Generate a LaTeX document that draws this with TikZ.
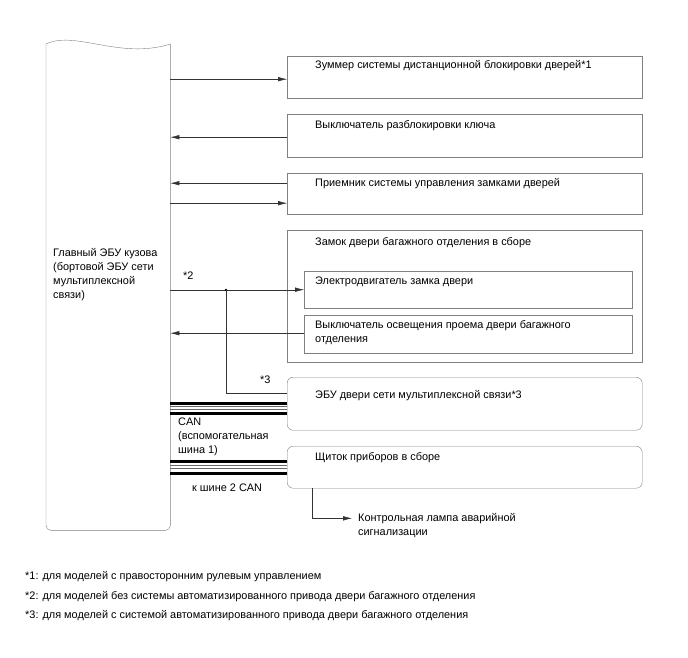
\documentclass[tikz,border=0pt]{standalone}
\usepackage{fontspec}
\setmainfont{Liberation Sans}
\usetikzlibrary{arrows.meta,positioning}

\newcommand{\dgfont}{\fontsize{10.9}{14}\selectfont}

\tikzset{
  blk/.style={draw=black!50, minimum width=355pt, minimum height=42pt, anchor=north west, inner sep=0pt},
  rblk/.style={blk, rounded corners=6pt},
  lbl/.style={anchor=north west, inner sep=0pt, align=left, font=\dgfont},
  txt/.style={inner sep=0pt, align=left, font=\dgfont},
  arr/.style={draw=black!80, -{Latex[length=9pt,width=4.5pt]}},
  wire/.style={draw=black!80},
  canthick/.style={line width=2.8pt, black},
  canthin/.style={line width=0.6pt, black!60},
}

\begin{document}
\begin{tikzpicture}[x=1pt,y=-1pt]
    \useasboundingbox (0,0) rectangle (688,658);

    % main body ECU
    \node[minimum width=124pt, minimum height=486pt, anchor=north west, inner sep=0pt,
      label={[lbl, xshift=7pt, yshift=-204pt]north west:Главный ЭБУ кузова\\(бортовой ЭБУ сети\\мультиплексной\\связи)}] (ecu) at (46,44) {};
    \draw[draw=black!50, rounded corners=5pt] (ecu.north west) -- (ecu.south west) -- (ecu.south east) -- (ecu.north east);
    \draw[draw=black!50] (ecu.north east) .. controls (120,60) and (75,30) .. (ecu.north west);

    % boxes
    \node[blk, label={[lbl, xshift=28pt, yshift=-4pt]north west:Зуммер системы дистанционной блокировки дверей*1}] (buzz) at (287,56) {};
    \node[blk, minimum height=43pt, label={[lbl, xshift=28pt, yshift=-6pt]north west:Выключатель разблокировки ключа}] (keysw) at (287,114) {};
    \node[blk, minimum height=41pt, label={[lbl, xshift=28pt, yshift=-5pt]north west:Приемник системы управления замками дверей}] (recv) at (287,173) {};
    \node[blk, minimum height=132pt, label={[lbl, xshift=28pt, yshift=-7pt]north west:Замок двери багажного отделения в сборе}] (tlock) at (287,230) {};
    \node[blk, minimum width=328pt, minimum height=37pt, label={[lbl, xshift=11pt, yshift=-6pt]north west:Электродвигатель замка двери}] (tmotor) at (304,271) {};
    \node[blk, minimum width=328pt, minimum height=38pt, label={[lbl, xshift=11pt, yshift=-5pt]north west:Выключатель освещения проема двери багажного\\отделения}] (tcourt) at (304,315) {};
    \node[rblk, minimum height=53pt, label={[lbl, xshift=28pt, yshift=-13pt]north west:ЭБУ двери сети мультиплексной связи*3}] (doorecu) at (287,377) {};
    \node[rblk, minimum height=42pt, label={[lbl, xshift=28pt, yshift=-6pt]north west:Щиток приборов в сборе}] (meter) at (287,446) {};
    \node[lbl] (lamp) at (358,513) {Контрольная лампа аварийной\\сигнализации};

    % signals
    \draw[arr] ([yshift=-2pt]buzz.west -| ecu.east) -- ([yshift=-2pt]buzz.west);
    \draw[arr] ([yshift=-1.5pt]keysw.west) -- ([yshift=-1.5pt]keysw.west -| ecu.east);
    \draw[arr] ([yshift=10.5pt]recv.west) -- ([yshift=10.5pt]recv.west -| ecu.east);
    \draw[arr] ([yshift=-9.5pt]recv.west -| ecu.east) -- ([yshift=-9.5pt]recv.west);
    \draw[arr] (tmotor.west -| ecu.east) -- (tmotor.west);
    \draw[arr] ([yshift=1pt]tcourt.west) -- ([yshift=1pt]tcourt.west -| ecu.east);
    \coordinate (jn) at (226,290);
    \fill (jn) circle (1.3pt);
    \draw[wire] (jn) |- ([yshift=11pt]doorecu.west);
    \draw[arr] ([xshift=25pt]meter.south west) |- ([xshift=-6pt,yshift=7pt]lamp.west);

    % CAN lines
    \draw[canthick] ([yshift=0.5pt]doorecu.west) -- ([yshift=0.5pt]doorecu.west -| ecu.east);
    \draw[canthin] ([yshift=-3pt]doorecu.west) -- ([yshift=-3pt]doorecu.west -| ecu.east);
    \draw[canthin] ([yshift=-6pt]doorecu.west) -- ([yshift=-6pt]doorecu.west -| ecu.east);
    \draw[canthick] ([yshift=-9.5pt]doorecu.west) -- ([yshift=-9.5pt]doorecu.west -| ecu.east);
    \draw[canthick] ([yshift=6pt]meter.west) -- ([yshift=6pt]meter.west -| ecu.east);
    \draw[canthin] ([yshift=2pt]meter.west) -- ([yshift=2pt]meter.west -| ecu.east);
    \draw[canthin] ([yshift=-1.5pt]meter.west) -- ([yshift=-1.5pt]meter.west -| ecu.east);
    \draw[canthick] ([yshift=-6pt]meter.west) -- ([yshift=-6pt]meter.west -| ecu.east);

    % notes
    \node[txt, anchor=west] (n2) at (183,276) {*2};
    \node[txt, anchor=west] (n3) at (260,380) {*3};
    \node[lbl] (can1) at (178,418) {CAN\\(вспомогательная\\шина 1)};
    \node[txt, anchor=west] (can2) at (192,488) {к шине 2 CAN};

    \node[txt, anchor=west] (fn1) at (25,577) {*1: для моделей с правосторонним рулевым управлением};
    \node[txt, anchor=west] (fn2) at (25,597) {*2: для моделей без системы автоматизированного привода двери багажного отделения};
    \node[txt, anchor=west] (fn3) at (25,616) {*3: для моделей с системой автоматизированного привода двери багажного отделения};
\end{tikzpicture}
\end{document}
